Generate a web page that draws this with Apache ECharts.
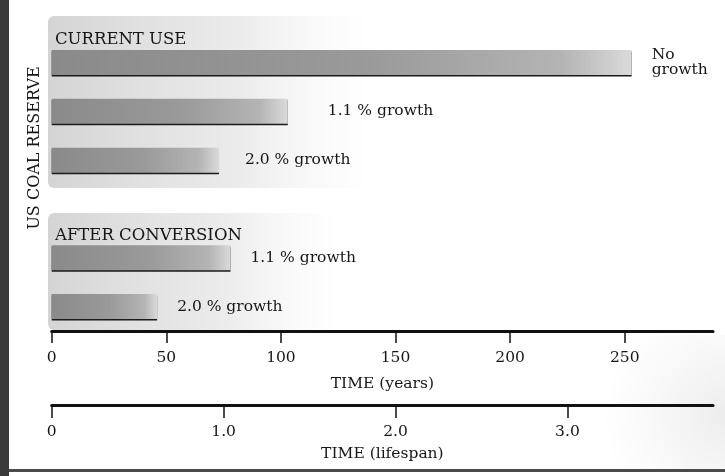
<!DOCTYPE html>
<html>
<head>
<meta charset="utf-8">
<script src="https://cdn.jsdelivr.net/npm/echarts@6/dist/echarts.min.js"></script>
<style>
html,body{margin:0;padding:0;background:#fff;}
#chart{width:725px;height:476px;}
</style>
</head>
<body>
<div id="chart"></div>
<script>
// ---- data ----
const categories = ['No growth', '1.1 % growth', '2.0 % growth', '', '1.1 % growth', '2.0 % growth'];
const groupNames = ['CURRENT USE', 'AFTER CONVERSION'];
const yearsValues = [253, 103, 73, null, 78, 46];
const barLabels = ['No\ngrowth', '1.1 % growth', '2.0 % growth', '', '1.1 % growth', '2.0 % growth'];
const yearTicks = [0, 50, 100, 150, 200, 250];
const lifespanTicks = [0, 1.0, 2.0, 3.0];
const yearsPerLifespan = 75;
const yearsMax = 288.5;
const yAxisTitle = 'US COAL RESERVE';
const xTitleYears = 'TIME (years)';
const xTitleLifespan = 'TIME (lifespan)';

// ---- styles ----
const FONT = 'DejaVu Serif';
const TXT = '#161616';
const labelGap = [20, 40, 26, 20, 20, 20];

const chart = echarts.init(document.getElementById('chart'));

const barGrad = new echarts.graphic.LinearGradient(0, 0, 1, 0, [
  {offset: 0, color: '#8a8a8a'},
  {offset: 0.55, color: '#9a9a9a'},
  {offset: 0.88, color: '#b4b4b4'},
  {offset: 1, color: '#dadada'}
]);

const barData = yearsValues.map((v, i) => ({
  value: v,
  label: {
    show: v != null,
    position: 'right',
    distance: labelGap[i],
    formatter: () => barLabels[i]
  }
}));

const bgGrad = () => new echarts.graphic.LinearGradient(0, 0, 1, 0, [
  {offset: 0, color: 'rgba(170,170,170,0.5)'},
  {offset: 0.6, color: 'rgba(190,190,190,0.3)'},
  {offset: 1, color: 'rgba(220,220,220,0)'}
]);

const option = {
  animation: false,
  backgroundColor: '#ffffff',
  textStyle: {fontFamily: FONT, color: TXT},
  grid: {left: 51.7, right: 12, top: 38.1, bottom: 145, containLabel: false},
  xAxis: [
    {
      type: 'value', min: 0, max: yearsMax, interval: 50, position: 'bottom',
      name: xTitleYears, nameLocation: 'middle', nameGap: 45,
      nameTextStyle: {fontFamily: FONT, fontSize: 15.5, color: TXT},
      axisLine: {show: true, lineStyle: {color: '#111', width: 3}},
      axisTick: {show: true, length: 12, customValues: yearTicks, lineStyle: {color: '#111', width: 1.5}},
      axisLabel: {fontFamily: FONT, fontSize: 15.5, color: TXT, margin: 19, customValues: yearTicks,
        formatter: v => String(v)},
      splitLine: {show: false}
    },
    {
      type: 'value', min: 0, max: yearsMax / yearsPerLifespan, interval: 1, position: 'bottom', offset: 74,
      name: xTitleLifespan, nameLocation: 'middle', nameGap: 41,
      nameTextStyle: {fontFamily: FONT, fontSize: 15.5, color: TXT},
      axisLine: {show: true, onZero: false, lineStyle: {color: '#111', width: 3}},
      axisTick: {show: true, length: 13, customValues: lifespanTicks, lineStyle: {color: '#111', width: 1.5}},
      axisLabel: {fontFamily: FONT, fontSize: 15.5, color: TXT, margin: 19, customValues: lifespanTicks,
        formatter: v => (v === 0 ? '0' : v.toFixed(1))},
      splitLine: {show: false}
    }
  ],
  yAxis: {
    type: 'category', inverse: true, data: categories,
    axisLine: {show: false}, axisTick: {show: false}, axisLabel: {show: false}, splitLine: {show: false}
  },
  series: [
    {
      type: 'bar', xAxisIndex: 0, data: barData, barWidth: 25,
      itemStyle: {color: barGrad, shadowColor: '#1a1a1a', shadowOffsetY: 1.5, shadowBlur: 0},
      label: {fontFamily: FONT, fontSize: 15.5, color: TXT, lineHeight: 15},
      z: 3
    }
  ],
  graphic: [
    {type: 'rect', z: -10, shape: {x: 48, y: 16, width: 320, height: 172, r: 6}, style: {fill: bgGrad()}},
    {type: 'rect', z: -10, shape: {x: 48, y: 213, width: 290, height: 117, r: 6}, style: {fill: bgGrad()}},
    {type: 'rect', z: -10, shape: {x: 500, y: 335, width: 225, height: 134},
      style: {fill: new echarts.graphic.RadialGradient(1, 0.6, 0.9, [
        {offset: 0, color: 'rgba(190,190,190,0.28)'}, {offset: 1, color: 'rgba(200,200,200,0)'}])}},
    {type: 'rect', z: 10, shape: {x: 0, y: 0, width: 9, height: 476}, style: {fill: '#3a3a3a'}},
    {type: 'rect', z: 10, shape: {x: 9, y: 469, width: 716, height: 3}, style: {fill: '#4a4a4a'}},
    {type: 'text', z: 10, left: 55, top: 31,
      style: {text: groupNames[0], font: '16.5px "DejaVu Serif"', fill: TXT}},
    {type: 'text', z: 10, left: 55, top: 227,
      style: {text: groupNames[1], font: '16.5px "DejaVu Serif"', fill: TXT}},
    {type: 'text', z: 10, x: 35, y: 148, rotation: Math.PI / 2,
      style: {text: yAxisTitle, font: '16px "DejaVu Serif"', fill: TXT, align: 'center', verticalAlign: 'middle'}}
  ]
};

chart.setOption(option);
</script>
</body>
</html>
